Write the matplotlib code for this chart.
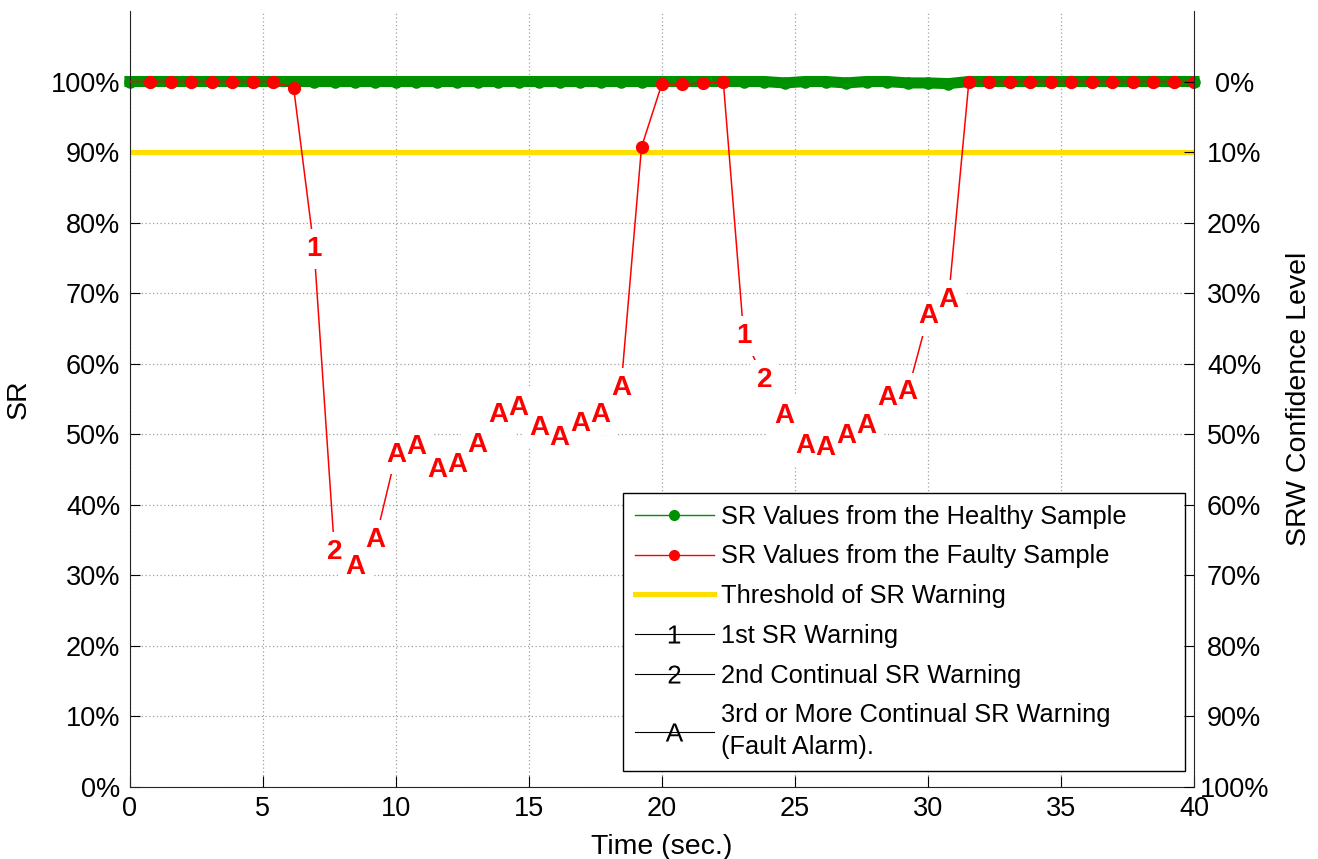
import numpy as np
import matplotlib.pyplot as plt
from matplotlib.lines import Line2D

plt.rcParams['font.family'] = ['Liberation Sans', 'DejaVu Sans']
plt.rcParams['font.size'] = 19.5
plt.rcParams['mathtext.fontset'] = 'custom'
plt.rcParams['mathtext.rm'] = 'Liberation Sans'

# sampling instants (53 samples over 40 s)
t = np.linspace(0, 40, 53)

# SR of the healthy sample (%)
sr_healthy = [100, 100, 100, 100, 100, 100, 100, 100, 100, 100,
              100, 100, 100, 100, 100, 100, 100, 100, 100, 100,
              100, 100, 100, 100, 100, 100, 100, 100, 100, 100,
              100, 100, 99.8, 100, 100, 99.8, 100, 100, 99.8, 99.8,
              99.7, 100, 100, 100, 100, 100, 100, 100, 100, 100,
              100, 100, 100]

# SR of the faulty sample (%)
sr_faulty = [100, 100, 100, 100, 100, 100, 100, 100, 99.1, 76.2,
             33.3, 31.2, 35.0, 47.1, 48.1, 44.9, 45.6, 48.5, 52.7, 53.7,
             50.9, 49.5, 51.5, 52.7, 56.6, 90.7, 99.7, 99.6, 99.8, 99.9,
             63.9, 57.7, 52.6, 48.3, 48.0, 49.8, 51.2, 55.1, 55.9, 66.7,
             69.0, 100, 100, 100, 100, 100, 100, 100, 100, 100,
             100, 100, 100]

threshold = 90

green = '#009100'
yellow = '#FFDF00'
red = '#FF0000'

# warning code for each sample: 1st, 2nd, then A for 3rd or more in a row
codes = []
run = 0
for v in sr_faulty:
    run = run + 1 if v < threshold else 0
    if run == 0:
        codes.append('')
    elif run == 1:
        codes.append('1')
    elif run == 2:
        codes.append('2')
    else:
        codes.append('A')

sr_f = np.array(sr_faulty)
ok = np.array([c == '' for c in codes])
ok[0] = False  # start point has no dot

fig = plt.figure(figsize=(13.18, 8.59), dpi=100)
ax = fig.add_axes([0.0986, 0.0842, 0.8073, 0.903])

ax.plot(t, sr_healthy, color=green, lw=8, marker='o', ms=8, zorder=2, clip_on=False)
ax.axhline(threshold, color=yellow, lw=3.6, zorder=2)
ax.plot(t, sr_f, color=red, lw=1.1, zorder=3)
ax.plot(t[ok], sr_f[ok], 'o', color=red, ms=8.5, zorder=3)

# white boxes first so the line is cut around the letters, then the letters
for x, y, c in zip(t, sr_f, codes):
    if c:
        ax.text(x, y, c, color='none', fontsize=20, fontweight='bold',
                ha='center', va='center',
                bbox=dict(facecolor='white', edgecolor='none', boxstyle='square,pad=0.25'),
                zorder=4)
for x, y, c in zip(t, sr_f, codes):
    if c:
        ax.text(x, y, c, color=red, fontsize=20, fontweight='bold',
                ha='center', va='center', zorder=5)

ax.set_xlim(0, 40)
ax.set_ylim(0, 110)
ax.set_xticks(range(0, 41, 5))
ax.set_yticks(range(0, 101, 10))
ax.set_yticklabels([f'{v}%' for v in range(0, 101, 10)])
ax.grid(True, linestyle=(0, (1, 2)), color='#a0a0a0', lw=0.9)
ax.set_axisbelow(True)
ax.tick_params(axis='y', direction='in', length=7, pad=7, right=False)
ax.tick_params(axis='x', direction='in', length=8, pad=7, top=False)
ax.set_xlabel('Time (sec.)', fontsize=20.5, labelpad=8)
ax.set_ylabel('SR', fontsize=20.5, labelpad=14)
for s in ['top', 'right']:
    ax.spines[s].set_visible(False)
for s in ['left', 'bottom']:
    ax.spines[s].set_color('#262626')

# right axis: confidence level = 100% - SR
ax2 = ax.twinx()
ax2.set_ylim(100, -10)
ax2.set_yticks(range(0, 101, 10))
ax2.set_yticklabels([f'{v}%' for v in range(0, 101, 10)])
ax2.tick_params(axis='y', direction='in', length=7, pad=29)
plt.setp(ax2.get_yticklabels(), ha='center')
ax2.set_ylabel('SRW Confidence Level', fontsize=20.5, labelpad=12)
for s in ['top', 'left', 'bottom']:
    ax2.spines[s].set_visible(False)
ax2.spines['right'].set_color('#262626')

handles = [
    Line2D([], [], color=green, lw=1, marker='o', ms=7),
    Line2D([], [], color=red, lw=1, marker='o', ms=7),
    Line2D([], [], color=yellow, lw=3.6),
    Line2D([], [], color='black', lw=0.8, marker=r'$\mathrm{1}$', ms=13, mew=0),
    Line2D([], [], color='black', lw=0.8, marker=r'$\mathrm{2}$', ms=13, mew=0),
    Line2D([], [], color='black', lw=0.8, marker=r'$\mathrm{A}$', ms=13, mew=0),
]
labels = ['SR Values from the Healthy Sample',
          'SR Values from the Faulty Sample',
          'Threshold of SR Warning',
          '1st SR Warning',
          '2nd Continual SR Warning',
          '3rd or More Continual SR Warning\n(Fault Alarm).']
leg = ax.legend(handles, labels, loc='lower left', fontsize=18.3,
                bbox_to_anchor=(0.4633, 0.0202, 0.5282, 0), mode='expand',
                fancybox=False, edgecolor='black', framealpha=1,
                handlelength=3.1, handletextpad=0.3, labelspacing=0.62,
                borderpad=0.47, borderaxespad=0)
leg.get_frame().set_linewidth(1.0)
for txt in leg.get_texts():
    txt.set_linespacing(1.4)

fig.savefig('out.png', dpi=100)
